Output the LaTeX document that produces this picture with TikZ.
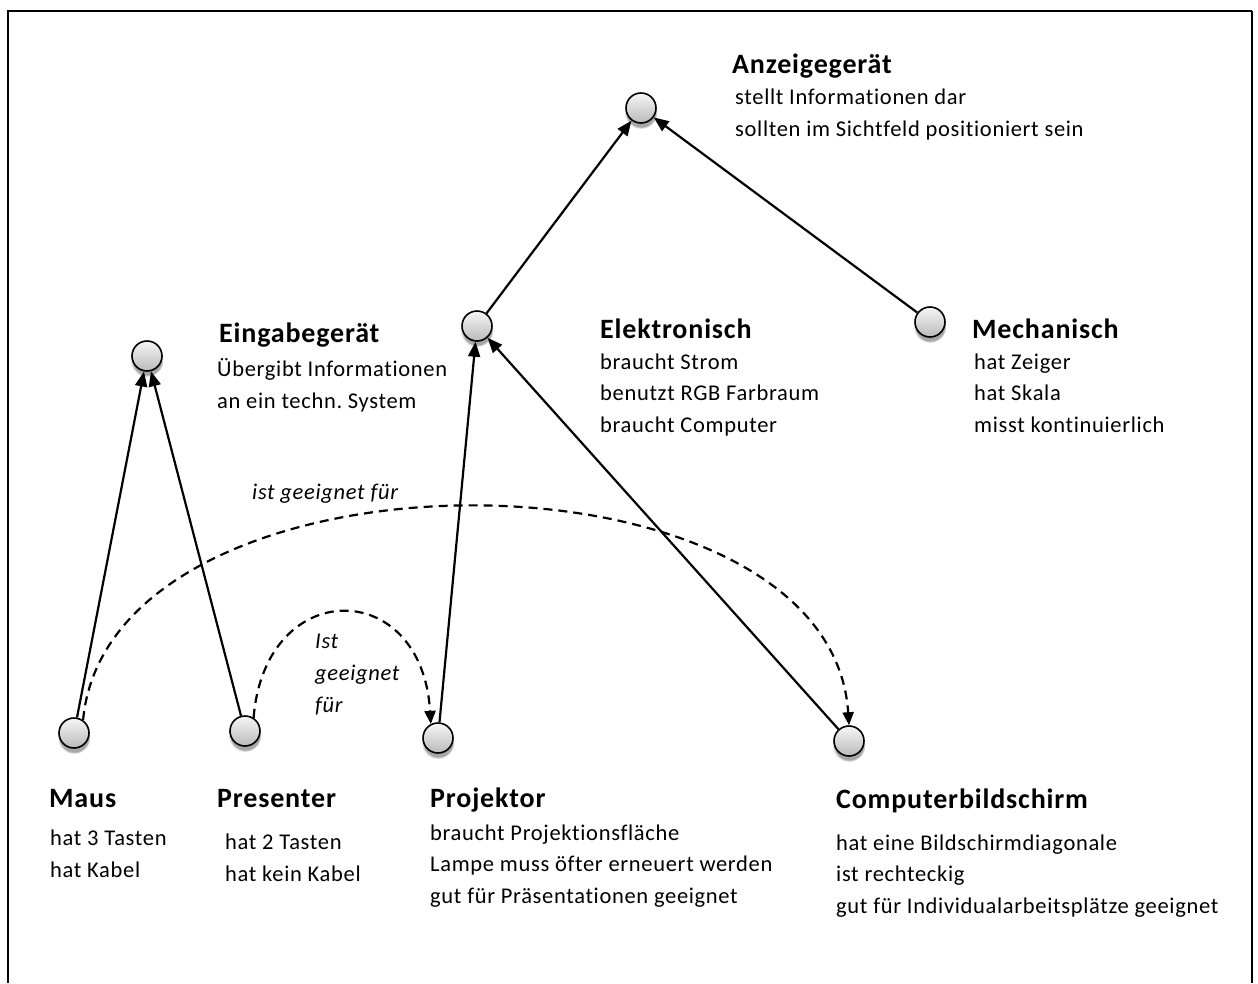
\documentclass[tikz,border=0pt]{standalone}
\usepackage{fontspec}
\setmainfont{Carlito}[LetterSpace=3,Ligatures=NoCommon]
\usetikzlibrary{arrows.meta,shadows}
\definecolor{CircleTop}{RGB}{246,246,246}
\definecolor{CircleBottom}{RGB}{186,186,186}
\frenchspacing

\begin{document}
\begin{tikzpicture}[x=1pt,y=-1pt,
  concept/.style={circle, draw, line width=1.6pt, minimum size=30pt, inner sep=0pt, top color=CircleTop, bottom color=CircleBottom,
    circular drop shadow={shadow xshift=0pt, shadow yshift=-4pt, shadow scale=1.1, opacity=0.7}},
  heading/.style={anchor=base west, inner sep=0pt, font=\fontsize{28}{31}\selectfont\bfseries},
  facts/.style={anchor=base west, inner sep=0pt, align=left, font=\fontsize{22.5}{31.5}\selectfont},
  relname/.style={anchor=base west, inner sep=0pt, align=left, font=\fontsize{22.5}{32}\selectfont\itshape},
  isa/.style={-{Triangle[length=15pt,width=12pt]}, line width=2.2pt},
  suits/.style={-{Triangle[length=13pt,width=11pt]}, line width=2.2pt, dash pattern=on 9pt off 6pt}]
  \useasboundingbox (0,0) rectangle (1258,983);
  \draw[line width=2pt] (8,983) -- (8,11) -- (1252,11);
  \draw[line width=1.2pt] (1252,11) -- (1252,983);

  % concepts
  \node[concept] (anzeige) at (641,108) {};
  \node[concept] (elektro) at (477,326) {};
  \node[concept] (mechan) at (930,322) {};
  \node[concept] (eingabe) at (147,356) {};
  \node[concept] (maus) at (74,733) {};
  \node[concept] (presenter) at (245,731) {};
  \node[concept] (projektor) at (438,738) {};
  \node[concept] (bildschirm) at (849,741) {};

  % labels (facts anchored on the baseline of their last line)
  \node[heading] (anzeigeTitle) at (732,73) {Anzeigegerät};
  \node[facts] (anzeigeText) at (735,136) {stellt Informationen dar\\sollten im Sichtfeld positioniert sein};
  \node[heading] (eingabeTitle) at (219,342) {Eingabegerät};
  \node[facts] (eingabeText) at (217,408) {Übergibt Informationen\\an ein techn. System};
  \node[heading] (elektroTitle) at (600,338) {Elektronisch};
  \node[facts] (elektroText) at (600,432) {braucht Strom\\benutzt RGB Farbraum\\braucht Computer};
  \node[heading] (mechanTitle) at (972,338) {Mechanisch};
  \node[facts] (mechanText) at (974,432) {hat Zeiger\\hat Skala\\misst kontinuierlich};
  \node[heading] (mausTitle) at (49,807) {Maus};
  \node[facts] (mausText) at (50,877) {hat 3 Tasten\\hat Kabel};
  \node[heading] (presenterTitle) at (217,807) {Presenter};
  \node[facts] (presenterText) at (225,881) {hat 2 Tasten\\hat kein Kabel};
  \node[heading] (projektorTitle) at (430,807) {Projektor};
  \node[facts] (projektorText) at (430,903) {braucht Projektionsfläche\\Lampe muss öfter erneuert werden\\gut für Präsentationen geeignet};
  \node[heading] (bildschirmTitle) at (836,808) {Computerbildschirm};
  \node[facts] (bildschirmText) at (836,913) {hat eine Bildschirmdiagonale\\ist rechteckig\\gut für Individualarbeitsplätze geeignet};

  % hierarchy
  \draw[isa] (elektro) -- (anzeige);
  \draw[isa] (mechan) -- (anzeige);
  \draw[isa] (maus) -- (eingabe);
  \draw[isa] (presenter) -- (eingabe);
  \draw[isa] (projektor) -- (elektro);
  \draw[isa] (bildschirm) -- (elektro);

  % suitability
  \draw[suits] (maus.55) .. controls (110,435) and (830,435) .. (bildschirm.north);
  \node[relname] (suitsBig) at (252,499) {ist geeignet für};
  \draw[suits] (presenter.57) .. controls (265,576) and (422,576) .. (projektor.117);
  \node[relname] (suitsSmall) at (315,712) {Ist\\geeignet\\für};
\end{tikzpicture}
\end{document}
